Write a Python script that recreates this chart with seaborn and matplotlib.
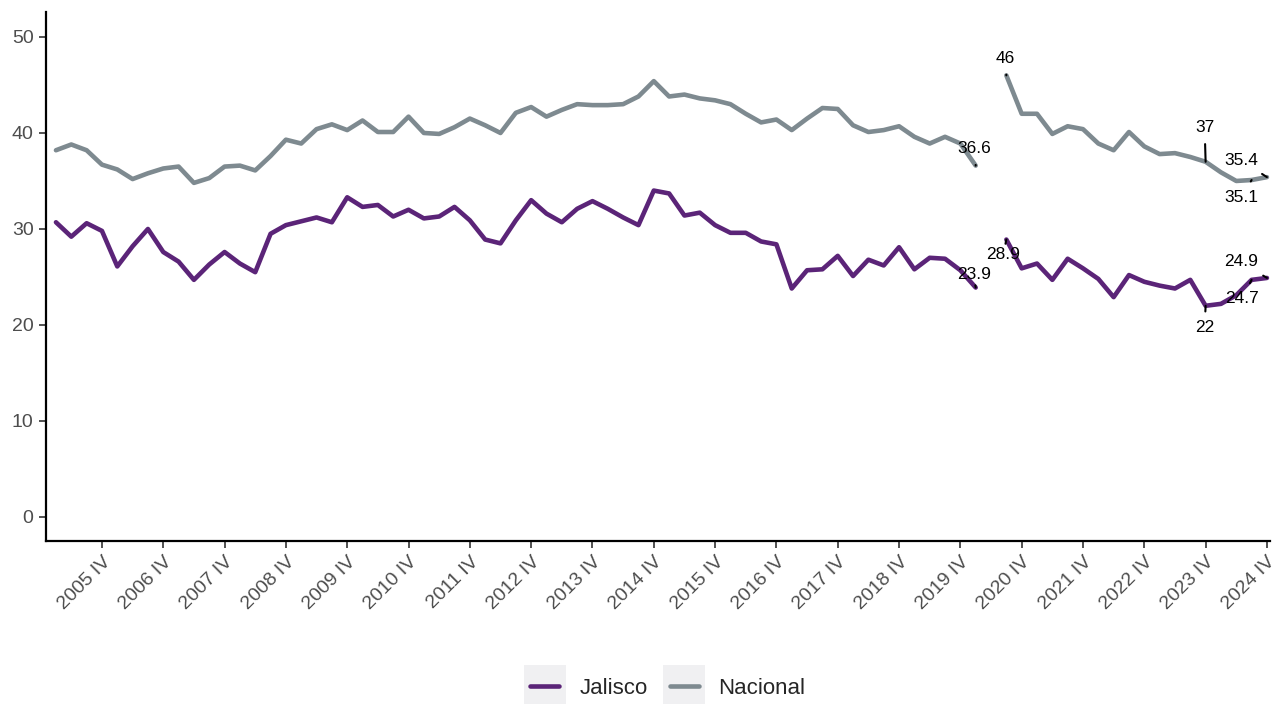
import matplotlib
matplotlib.use("Agg")
import matplotlib.pyplot as plt
from matplotlib.legend_handler import HandlerLine2D
from matplotlib.patches import Rectangle
from matplotlib.lines import Line2D
import seaborn as sns
import pandas as pd
import numpy as np

# quarters 2005 I .. 2024 IV
years = list(range(2005, 2025))
quarter_names = ["I", "II", "III", "IV"]
periodos = [f"{y} {q}" for y in years for q in quarter_names]

nan = np.nan
jalisco = [
    30.7, 29.2, 30.6, 29.8,
    26.1, 28.2, 30.0, 27.6,
    26.6, 24.7, 26.3, 27.6,
    26.4, 25.5, 29.5, 30.4,
    30.8, 31.2, 30.7, 33.3,
    32.3, 32.5, 31.3, 32.0,
    31.1, 31.3, 32.3, 30.9,
    28.9, 28.5, 30.9, 33.0,
    31.6, 30.7, 32.1, 32.9,
    32.1, 31.2, 30.4, 34.0,
    33.7, 31.4, 31.7, 30.4,
    29.6, 29.6, 28.7, 28.4,
    23.8, 25.7, 25.8, 27.2,
    25.1, 26.8, 26.2, 28.1,
    25.8, 27.0, 26.9, 25.7,
    23.9, nan, 28.9, 25.9,
    26.4, 24.7, 26.9, 25.9,
    24.8, 22.9, 25.2, 24.5,
    24.1, 23.8, 24.7, 22.0,
    22.2, 23.1, 24.7, 24.9,
]
nacional = [
    38.2, 38.8, 38.2, 36.7,
    36.2, 35.2, 35.8, 36.3,
    36.5, 34.8, 35.3, 36.5,
    36.6, 36.1, 37.6, 39.3,
    38.9, 40.4, 40.9, 40.3,
    41.3, 40.1, 40.1, 41.7,
    40.0, 39.9, 40.6, 41.5,
    40.8, 40.0, 42.1, 42.7,
    41.7, 42.4, 43.0, 42.9,
    42.9, 43.0, 43.8, 45.4,
    43.8, 44.0, 43.6, 43.4,
    43.0, 42.0, 41.1, 41.4,
    40.3, 41.5, 42.6, 42.5,
    40.8, 40.1, 40.3, 40.7,
    39.6, 38.9, 39.6, 38.9,
    36.6, nan, 46.0, 42.0,
    42.0, 39.9, 40.7, 40.4,
    38.9, 38.2, 40.1, 38.6,
    37.8, 37.9, 37.5, 37.0,
    35.9, 35.0, 35.1, 35.4,
]
series_names = ["Jalisco", "Nacional"]
colores = {"Jalisco": "#5b2478", "Nacional": "#7e8a90"}

# points that carry a value label, with label offsets in pixels (dx, dy)
etiquetas = {
    "Jalisco": {"2020 I": (-2, 13), "2020 III": (-3, -15), "2023 IV": (-1, -22),
                "2024 III": (-10, -19), "2024 IV": (-26, 16)},
    "Nacional": {"2020 I": (-1, 17), "2020 III": (-1, 17), "2023 IV": (-1, 34),
                 "2024 III": (-10, -17), "2024 IV": (-26, 17)},
}

idx = np.arange(len(periodos))
tramo = np.where(idx < periodos.index("2020 II"), 0, 1)
df = pd.concat([
    pd.DataFrame({"t": idx, "periodo": periodos, "valor": jalisco, "serie": "Jalisco", "tramo": tramo}),
    pd.DataFrame({"t": idx, "periodo": periodos, "valor": nacional, "serie": "Nacional", "tramo": tramo}),
]).dropna()
df["unidad"] = df["serie"] + df["tramo"].astype(str)

sns.set_theme(style="ticks")
plt.rcParams["font.family"] = ["Liberation Sans", "DejaVu Sans"]

fig = plt.figure(figsize=(12.84, 7.04), dpi=100)
ax = fig.add_axes([46 / 1284, 1 - 541 / 704, 1224 / 1284, 529 / 704])

sns.lineplot(data=df, x="t", y="valor", hue="serie", units="unidad", estimator=None,
             palette=colores, hue_order=series_names, linewidth=3.3, ax=ax,
             legend=False)

for serie in series_names:
    vals = dict(zip(periodos, jalisco if serie == "Jalisco" else nacional))
    for per, (dx, dy) in etiquetas[serie].items():
        v = vals[per]
        ax.annotate(f"{v:g}", xy=(periodos.index(per), v), xytext=(dx, dy),
                    textcoords="offset pixels", ha="center", va="center",
                    fontsize=12.5, color="black",
                    arrowprops=dict(arrowstyle="-", color="black", lw=1.5,
                                    shrinkA=4, shrinkB=0))

ax.set_xlim(-0.65, 79.2)
ax.set_ylim(-2.5, 52.6)
tick_pos = [i for i, p in enumerate(periodos) if p.endswith(" IV")]
ax.set_xticks(tick_pos)
ax.set_xticklabels([periodos[i] for i in tick_pos], rotation=45, ha="right",
                   rotation_mode="anchor")
ax.set_yticks([0, 10, 20, 30, 40, 50])
ax.tick_params(axis="both", labelsize=14, labelcolor="#4d4d4d", color="#333333",
               length=5, width=1.2, pad=4)
ax.set_xlabel("")
ax.set_ylabel("")
for s in ["top", "right"]:
    ax.spines[s].set_visible(False)
for s in ["left", "bottom"]:
    ax.spines[s].set_linewidth(1.6)
    ax.spines[s].set_color("black")


class KeyBg(HandlerLine2D):
    def create_artists(self, legend, orig_handle, xdescent, ydescent, width, height,
                       fontsize, trans):
        padx, pady = 0.3 * fontsize, 0.6 * fontsize
        rect = Rectangle((-xdescent - padx, -ydescent - pady), width + 2 * padx,
                         height + 2 * pady, facecolor="#f0f0f2", edgecolor="none",
                         transform=trans)
        arts = super().create_artists(legend, orig_handle, xdescent, ydescent, width,
                                      height, fontsize, trans)
        return [rect] + list(arts)


handles = [Line2D([], [], color=colores[s], lw=3.3) for s in series_names]
fig.legend(handles, series_names, loc="center", bbox_to_anchor=(668 / 1284, 16 / 704),
           ncol=2, frameon=False, fontsize=16, handlelength=1.3, handletextpad=0.9,
           columnspacing=1.0, handler_map={Line2D: KeyBg()})

fig.savefig("out.png", dpi=100)
